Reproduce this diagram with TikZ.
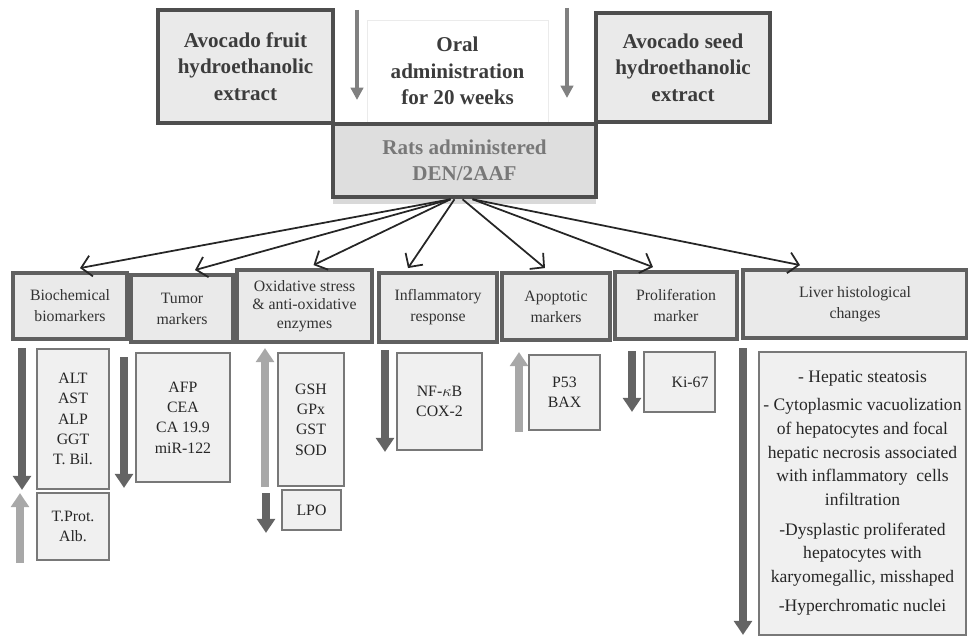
\documentclass[tikz,border=0pt]{standalone}
\usepackage{amsmath}
\usepackage{xcolor,tikz,fontspec}
\setmainfont{Liberation Serif}
\usetikzlibrary{arrows.meta,positioning,calc,shadows}
\definecolor{edge}{RGB}{78,78,78}
\definecolor{catedge}{RGB}{96,96,96}
\definecolor{listedge}{RGB}{120,120,120}
\definecolor{fillgray}{RGB}{234,234,234}
\definecolor{listfill}{RGB}{240,240,240}
\definecolor{ink}{RGB}{60,60,60}
\definecolor{ratsink}{RGB}{120,120,120}
\definecolor{darkarr}{RGB}{100,100,100}
\definecolor{lightarr}{RGB}{168,168,168}
\tikzset{
  topbox/.style={draw=edge,line width=2.6pt,fill=fillgray,inner sep=1pt,align=center,text=ink,font=\fontsize{12}{15}\selectfont\bfseries},
  catbox/.style={draw=catedge,line width=2.2pt,fill=fillgray,inner sep=1pt,align=center,text=black!80,font=\fontsize{9}{12}\selectfont},
  listbox/.style={draw=listedge,line width=1.6pt,fill=listfill,inner sep=1pt,align=center,text=black!85,font=\fontsize{9}{11.6}\selectfont},
  arr/.style={-{Straight Barb[length=2mm,width=4.2mm]},line width=1pt,draw=black!85},
  oarr/.style={-{Triangle[width=7pt,length=7pt]},line width=1.8pt,draw=black!50},
  dn/.style={-{Triangle[width=10pt,length=8pt]},line width=4pt,draw=darkarr},
  upw/.style={-{Triangle[width=10pt,length=8pt]},line width=4pt,draw=lightarr}
}
\begin{document}
\begin{tikzpicture}[x=0.02cm,y=-0.02cm]
  \useasboundingbox (0,0) rectangle (968,642);

  % top row
  \node[topbox,minimum width=3.5cm,minimum height=2.26cm] (fruit) at (245.5,66.5) {Avocado fruit\\hydroethanolic\\extract};
  \node[draw=black!8,fill=white,inner sep=1pt,align=center,text=ink,font=\fontsize{12}{15}\selectfont\bfseries,minimum width=3.62cm,minimum height=2.04cm] (oral) at (457.5,71) {Oral\\administration\\for 20 weeks};
  \node[topbox,minimum width=3.48cm,minimum height=2.18cm] (seed) at (683,67.5) {Avocado seed\\hydroethanolic\\extract};
  \coordinate (oa) at (357,10);
  \coordinate (ob) at (357,100);
  \coordinate (sa) at (567,8);
  \coordinate (sb) at (567,98);
  \draw[oarr] (oa) -- (ob);
  \draw[oarr] (sa) -- (sb);

  \node[topbox,text=ratsink,minimum width=5.26cm,minimum height=1.46cm,fill=black!13,drop shadow={shadow xshift=0pt,shadow yshift=-4pt,opacity=0.3}] (rats) at (464.5,160.5) {Rats administered\\DEN/2AAF};

  % categories
  \node[catbox,minimum width=2.28cm,minimum height=1.32cm] (bio) at (70,306) {Biochemical\\biomarkers};
  \node[catbox,minimum width=2.04cm,minimum height=1.34cm] (tum) at (182,308.5) {Tumor\\markers};
  \node[catbox,minimum width=2.7cm,minimum height=1.44cm,font=\fontsize{9}{10.5}\selectfont] (oxi) at (304.5,306) {Oxidative stress\\\& anti-oxidative\\enzymes};
  \node[catbox,minimum width=2.36cm,minimum height=1.38cm] (infl) at (438,307.5) {Inflammatory\\response};
  \node[catbox,minimum width=2.16cm,minimum height=1.34cm] (apo) at (556,306.5) {Apoptotic\\markers};
  \node[catbox,minimum width=2.44cm,minimum height=1.34cm] (pro) at (676,305.5) {Proliferation\\marker};
  \node[catbox,minimum width=4.48cm,minimum height=1.36cm] (liv) at (855,304) {Liver histological\\changes};

  \foreach \n/\s/\t in {bio/-14/10,tum/-14/13,oxi/-14/9,infl/-10/-30,apo/-2/-11,pro/8/-23,liv/8/-55}
    \draw[arr] ($(rats.south)+(\s,0)$) -- ($(\n.north)+(\t,-3)$);

  % measured parameters
  \node[listbox,minimum width=1.44cm,minimum height=2.8cm] (biolist) at (73,419) {ALT\\AST\\ALP\\GGT\\T. Bil.};
  \node[listbox,minimum width=1.44cm,minimum height=1.34cm] (protlist) at (73,526.5) {T.Prot.\\Alb.};
  \node[listbox,minimum width=1.88cm,minimum height=2.58cm] (tumlist) at (183,417.5) {AFP\\CEA\\CA 19.9\\miR-122};
  \node[listbox,minimum width=1.32cm,minimum height=2.66cm] (oxilist) at (311,419.5) {GSH\\GPx\\GST\\SOD};
  \node[listbox,minimum width=1.18cm,minimum height=0.8cm] (lpo) at (311.5,510) {LPO};
  \node[listbox,minimum width=1.7cm,minimum height=1.94cm] (infllist) at (439.5,401.5) {NF-$\kappa$B\\COX-2};
  \node[listbox,minimum width=1.42cm,minimum height=1.5cm] (apolist) at (564.5,392.5) {P53\\BAX};
  \node[listbox,minimum width=1.42cm,minimum height=1.2cm] (prolist) at (679.5,382) {\hspace*{12pt}Ki-67};
  \node[listbox,minimum width=4.14cm,minimum height=5.66cm,font=\fontsize{10}{13.6}\selectfont] (livlist) at (862.5,493.5)
    {- Hepatic steatosis\\[2pt]- Cytoplasmic vacuolization\\of hepatocytes and focal\\hepatic necrosis associated\\with inflammatory\ \ cells\\infiltration\\[3pt]-Dysplastic proliferated\\hepatocytes with\\karyomegallic, misshaped\\[3pt]-Hyperchromatic nuclei};

  % decrease / increase
  \foreach \x/\a/\b in {22/348/490,124/357/488,266/493/533,385/350/452,632/351/412,743/348/635}
    \draw[dn] (\x,\a) -- (\x,\b);
  \foreach \x/\a/\b in {20/563/493,265/487/348,519/432/352}
    \draw[upw] (\x,\a) -- (\x,\b);
\end{tikzpicture}
\end{document}
